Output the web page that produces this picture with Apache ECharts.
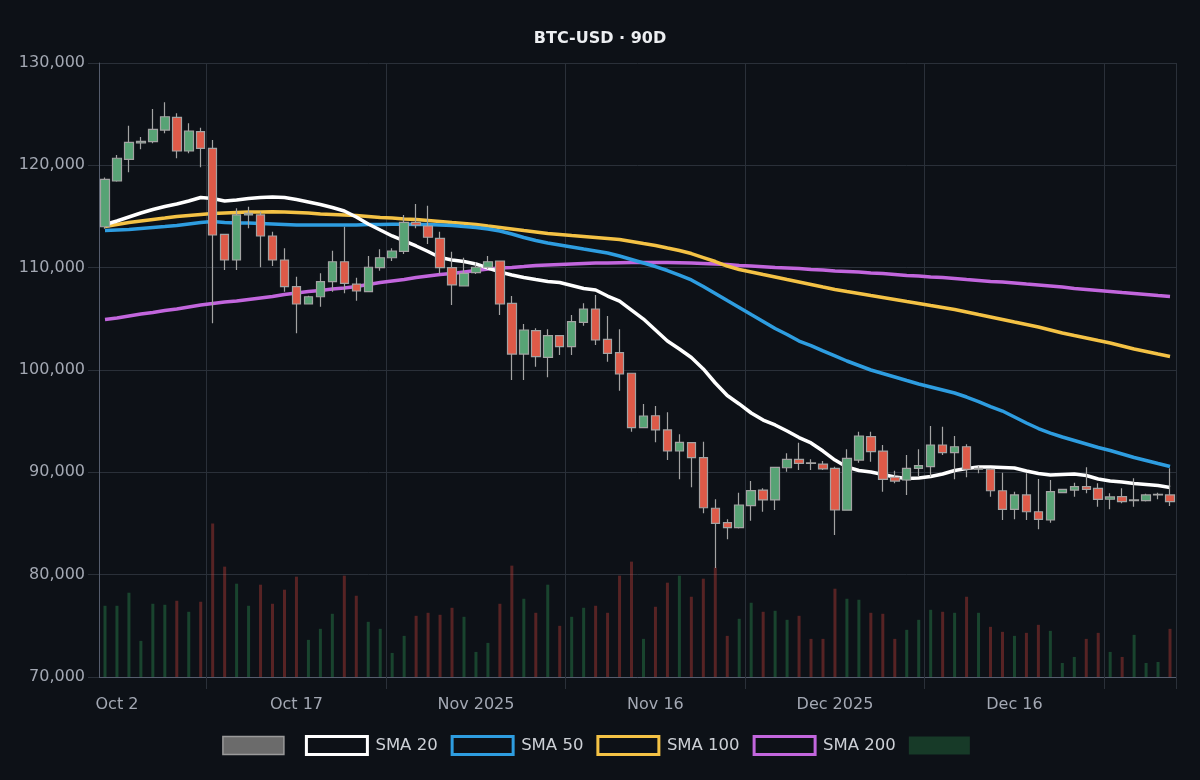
<!DOCTYPE html>
<html>
<head>
<meta charset="utf-8">
<script src="https://cdn.jsdelivr.net/npm/echarts@6/dist/echarts.min.js"></script>
<style>
  html, body { margin: 0; padding: 0; background: #0d1117; }
  #chart { width: 1200px; height: 780px; }
</style>
</head>
<body>
<div id="chart"></div>
<script>
// ---- categories: 90 daily dates starting 2025-10-01 ----
const START = [2025, 9, 1];
const DAYS = 90;
const dates = [];
for (let i = 0; i < DAYS; i++) {
  const d = new Date(Date.UTC(START[0], START[1], START[2] + i));
  dates.push(d.toISOString().slice(0, 10));
}

// ---- tick labels ----
const tickLabels = {
  '2025-10-02': 'Oct 2',
  '2025-10-17': 'Oct 17',
  '2025-11-01': 'Nov 2025',
  '2025-11-16': 'Nov 16',
  '2025-12-01': 'Dec 2025',
  '2025-12-16': 'Dec 16'
};
const gridDates = ['2025-10-10', '2025-10-25', '2025-11-09', '2025-11-24', '2025-12-09', '2025-12-24'];

// ---- OHLC (USD) ----
const open = [114000,118470,120590,122200,122310,123450,124690,121400,123290,121665,
113260,110750,115150,115150,113095,110750,108140,106450,107160,108630,
110580,108400,107650,110000,110970,111600,114430,114070,112870,110000,
108210,109510,110040,110650,106520,101560,103840,101240,103350,102280,
104660,105960,103000,101690,99680,94360,95530,94140,92085,92900,
91430,86490,85080,84590,86740,88270,87300,90450,91270,90920,
90810,90390,86300,91200,93480,92080,89520,89250,90390,90550,
92670,91920,92500,90300,90300,88200,86390,87790,86150,85340,
88010,88270,88600,88430,87370,87620,87230,87230,87790,87790];
const close = [118630,120690,122250,122350,123520,124750,121400,123355,121665,113190,
110750,115150,115300,113095,110750,108140,106450,107160,108630,110580,
108470,107720,110040,110970,111630,114430,114170,112970,110000,108310,
109450,110040,110580,106450,101560,103910,101300,103350,102280,104720,
105960,102930,101630,99610,94360,95505,94140,92085,92935,91430,
86540,85020,84590,86810,88205,87300,90490,91270,90880,90880,
90330,86320,91370,93550,92020,89320,89150,90390,90650,92670,
91920,92500,90300,90400,88200,86390,87790,86150,85410,88110,
88340,88600,88340,87365,87600,87130,87300,87790,87850,87130];
const low = [113800,118400,119320,121570,122150,123130,120690,121170,119810,104560,
109770,109770,113850,110040,110160,107650,103590,106400,106190,107650,
107500,106770,107600,109700,110650,111340,113850,112310,109380,106350,
108150,109380,109870,105375,99020,99020,100320,99290,101470,101470,
104330,102440,100810,97980,93970,94300,92930,91200,89320,88540,
86000,80650,83460,84500,85270,86150,86320,90060,90230,90230,
90230,83880,86250,90940,91040,88110,88930,87790,89570,89570,
91690,89320,89510,89900,87620,85340,85410,85340,84430,85080,
87950,87620,87950,86640,86390,86970,86640,87150,87360,86710];
const high = [118800,121010,123870,122770,125500,126160,125080,124110,123680,122480,
113300,115800,115960,115470,113515,111890,109120,107250,109450,111660,
114000,109020,111140,111800,111890,115150,116220,116050,113515,111560,
110970,110520,111140,110700,107230,104500,104070,103980,103400,105375,
106520,107330,105280,103980,99700,96680,96480,95870,93720,92950,
92990,87365,85410,88010,89150,88440,90550,91860,92900,91270,
91110,90550,92250,93970,93970,92670,90160,91690,92250,94530,
94460,93550,92740,90620,90390,89960,88110,89900,89350,89250,
88400,88990,90490,88930,87950,88440,89420,87900,88010,90390];

// ---- volume (billions USD) ----
const volume = [71,71,84,36,73,72,76,65,75,153,
110,93,71,92,73,87,100,37,48,63,
101,81,55,48,24,41,61,64,62,69,
60,25,34,73,111,78,64,92,51,60,
69,71,64,101,115,38,70,94,101,80,
98,109,41,58,74,65,66,57,61,38,
38,88,78,77,64,63,38,47,57,67,
65,64,80,64,50,45,41,44,52,46,
14,20,38,44,25,20,42,14,15,48];

// ---- moving averages (USD) ----
const sma20 = [114220,114560,114950,115340,115680,115980,116220,116510,116860,116760,
116510,116610,116760,116860,116910,116860,116660,116420,116170,115880,
115540,114950,114270,113680,113100,112610,112120,111580,110990,110750,
110600,110360,109970,109580,109280,109040,108840,108650,108550,108260,
107960,107820,107230,106740,105860,104980,103910,102830,102050,101220,
100100,98730,97510,96680,95800,95110,94630,94040,93400,92870,
92080,91200,90520,90180,90030,89790,89540,89400,89450,89590,
89840,90180,90370,90520,90520,90470,90420,90130,89890,89740,
89790,89840,89690,89350,89150,89060,88910,88810,88710,88520];
const sma50 = [113630,113680,113730,113830,113930,114020,114120,114270,114410,114510,
114410,114370,114370,114320,114270,114220,114170,114170,114170,114170,
114170,114170,114220,114220,114240,114240,114220,114220,114170,114120,
114020,113930,113780,113580,113290,112950,112660,112410,112220,112020,
111820,111630,111430,111140,110800,110460,110110,109720,109280,108800,
108160,107480,106790,106110,105420,104740,104060,103470,102830,102390,
101860,101370,100880,100440,100000,99660,99320,98970,98630,98340,
98050,97750,97360,96920,96430,95990,95410,94820,94280,93840,
93450,93110,92770,92430,92130,91790,91450,91160,90860,90570];
const sma100 = [114020,114220,114410,114560,114710,114850,115000,115100,115200,115290,
115340,115390,115440,115440,115470,115440,115390,115340,115240,115200,
115150,115100,115000,114900,114850,114760,114710,114610,114510,114410,
114320,114220,114070,113930,113780,113630,113490,113340,113240,113140,
113050,112950,112850,112750,112560,112360,112170,111920,111680,111380,
110990,110600,110160,109820,109580,109330,109090,108840,108600,108360,
108110,107870,107670,107480,107280,107090,106890,106690,106500,106300,
106110,105910,105670,105420,105180,104940,104690,104450,104200,103910,
103620,103370,103130,102880,102640,102350,102050,101810,101560,101320];
const sma200 = [104940,105080,105280,105470,105620,105810,105960,106160,106350,106500,
106650,106740,106890,107040,107180,107380,107520,107670,107770,107920,
108010,108160,108360,108550,108700,108840,109040,109190,109330,109430,
109580,109720,109870,109970,110020,110110,110210,110260,110310,110360,
110410,110460,110460,110490,110510,110510,110510,110510,110490,110460,
110410,110360,110310,110210,110160,110090,110020,109970,109920,109820,
109770,109670,109630,109580,109480,109430,109330,109230,109190,109090,
109040,108940,108840,108750,108650,108600,108500,108400,108310,108210,
108110,107960,107870,107770,107670,107570,107480,107380,107280,107180];

// ---- styling ----
const BG = '#0d1117';
const UP = '#57a375', DOWN = '#de5a48', WICK = '#a3a3a3';
const VOL_UP = 'rgba(46,160,90,0.36)', VOL_DOWN = 'rgba(220,70,60,0.36)';
const GRID = '#2a3039', AXIS = '#555d6e', LABEL = '#a3a8b3';
const smaDefs = [
  { name: 'SMA 200', data: sma200, color: '#c266dd' },
  { name: 'SMA 100', data: sma100, color: '#f4c245' },
  { name: 'SMA 50', data: sma50, color: '#2e9de0' },
  { name: 'SMA 20', data: sma20, color: '#ffffff' }
];
const CANDLE_NAME = '\u200b';
const VOL_NAME = '\u200b\u200b';

const candles = dates.map((d, i) => [open[i], close[i], low[i], high[i]]);
const volData = volume.map((v, i) => ({
  value: v,
  itemStyle: { color: close[i] >= open[i] ? VOL_UP : VOL_DOWN }
}));

const gridFn = (idx, val) => gridDates.indexOf(val) >= 0;

const chart = echarts.init(document.getElementById('chart'), null, { renderer: 'canvas' });
chart.setOption({
  backgroundColor: BG,
  animation: false,
  textStyle: { fontFamily: 'DejaVu Sans' },
  title: {
    text: 'BTC-USD · 90D',
    left: 'center',
    top: 26,
    textStyle: { color: '#eceef1', fontSize: 16, fontWeight: 'bold', fontFamily: 'DejaVu Sans' }
  },
  legend: {
    left: 'center',
    top: 730,
    itemWidth: 61,
    itemHeight: 18,
    itemGap: 13,
    textStyle: { color: '#cdd0d6', fontSize: 16.5, padding: [0, 0, 0, 3] },
    data: [
      { name: CANDLE_NAME, icon: 'rect', itemStyle: { color: '#6b6b6b', borderColor: '#9a9a9a', borderWidth: 1.5 } },
      { name: 'SMA 20', icon: 'rect', itemStyle: { color: BG, borderColor: '#ffffff', borderWidth: 3 } },
      { name: 'SMA 50', icon: 'rect', itemStyle: { color: BG, borderColor: '#2e9de0', borderWidth: 3 } },
      { name: 'SMA 100', icon: 'rect', itemStyle: { color: BG, borderColor: '#f4c245', borderWidth: 3 } },
      { name: 'SMA 200', icon: 'rect', itemStyle: { color: BG, borderColor: '#c266dd', borderWidth: 3 } },
      { name: VOL_NAME, icon: 'rect', itemStyle: { color: '#173a28', borderWidth: 0 } }
    ]
  },
  grid: { left: 99, right: 24, top: 63, bottom: 103 },
  xAxis: {
    type: 'category',
    data: dates,
    boundaryGap: true,
    axisLine: { show: true, lineStyle: { color: AXIS, width: 1 } },
    axisTick: { show: true, length: 12, interval: gridFn, lineStyle: { color: GRID } },
    axisLabel: {
      interval: (idx, val) => tickLabels[val] !== undefined,
      formatter: (val) => tickLabels[val] || '',
      color: LABEL,
      fontSize: 16,
      margin: 20
    },
    splitLine: { show: true, interval: gridFn, lineStyle: { color: GRID, width: 1 } }
  },
  yAxis: [
    {
      type: 'value',
      min: 70000,
      max: 130000,
      interval: 10000,
      axisLine: { show: true, lineStyle: { color: AXIS, width: 1 } },
      axisTick: { show: true, length: 11, lineStyle: { color: GRID } },
      axisLabel: {
        color: LABEL,
        fontSize: 16,
        margin: 14,
        formatter: (v) => v.toLocaleString('en-US')
      },
      splitLine: { show: true, lineStyle: { color: GRID, width: 1 } }
    },
    {
      type: 'value',
      min: 0,
      max: (v) => v.max * 4,
      show: false,
      splitLine: { show: false }
    }
  ],
  series: [
    {
      name: VOL_NAME,
      type: 'bar',
      yAxisIndex: 1,
      data: volData,
      barWidth: 3,
      itemStyle: { color: '#173a28' },
      z: 1
    },
    ...smaDefs.map((s) => ({
      name: s.name,
      type: 'line',
      data: s.data,
      symbol: 'none',
      showSymbol: false,
      smooth: false,
      lineStyle: { color: s.color, width: 3.5 },
      itemStyle: { color: s.color },
      z: 2
    })),
    {
      name: CANDLE_NAME,
      type: 'candlestick',
      data: candles,
      barWidth: 9,
      itemStyle: {
        color: UP,
        color0: DOWN,
        borderColor: WICK,
        borderColor0: WICK,
        borderWidth: 1.2
      },
      z: 3
    }
  ]
});
</script>
</body>
</html>
